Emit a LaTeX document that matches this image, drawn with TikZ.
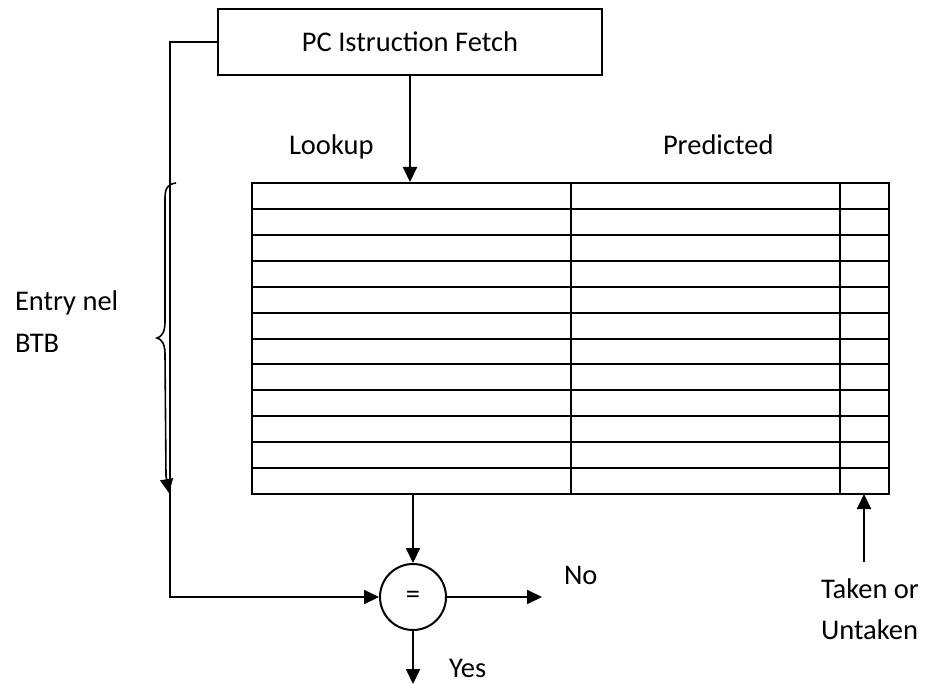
\documentclass[tikz,border=0pt]{standalone}
\usepackage{fontspec}
\setmainfont{Carlito}
\usetikzlibrary{arrows.meta}
\begin{document}
\begin{tikzpicture}[x=0.5pt,y=-0.5pt,line width=1pt,
  font=\fontsize{14.25pt}{17pt}\selectfont,
  tip/.style={-{Triangle[width=7pt,length=7.5pt]}},
  txt/.style={inner sep=0pt,anchor=base west},
  box/.style={draw,inner sep=0pt}]
\useasboundingbox (0,0) rectangle (926,684);

% fetch unit
\node[box,minimum width=192pt,minimum height=33pt] (pc) at (410,42) {PC Istruction Fetch};

% branch target buffer: 12 entries, three fields
\node[box,minimum width=318.5pt,minimum height=155.5pt] (btb) at (570.5,338.5) {};
\foreach \k in {1,...,11}
  \draw (252,183+\k*25.9167) -- (889,183+\k*25.9167);
\draw (571,183) -- (571,494);
\draw (840,183) -- (840,494);

% comparator
\node[box,circle,minimum size=33pt] (eq) at (413,597) {=};

% column headings
\node[txt] (lookup) at (288,155) {Lookup};
\node[txt] (pred) at (662,155) {Predicted};

% entry brace
\draw[line width=0.8pt,-{Triangle[width=6.5pt,length=7pt]}]
  (176,183) .. controls (168,184) and (165,188) .. (165,198)
  -- (165,322) .. controls (165,333) and (161,337) .. (157,338)
  .. controls (161,339) and (165,343) .. (165,354)
  -- (166,476) -- (169,493);
\node[txt] (entry1) at (14,310) {Entry nel};
\node[txt] (entry2) at (14,352) {BTB};

% connectors
\coordinate (loopx) at (170,42);
\coordinate (tabout) at (413,494);
\coordinate (noend) at (542,597);
\coordinate (yesend) at (413,684);
\coordinate (takenstart) at (864,562);
\coordinate (takenend) at (864,494);
\draw[tip] (pc.south) -- (pc.south |- btb.north);
\draw[tip] (pc.west) -- (loopx) |- (eq.west);
\draw[tip] (tabout) -- (eq.north);
\draw[tip] (eq.east) -- (noend);
\draw[tip] (eq.south) -- (yesend);
\draw[tip] (takenstart) -- (takenend);

% outcome labels
\node[txt] (no) at (563,584) {No};
\node[txt] (yes) at (448,677) {Yes};
\node[txt] (taken1) at (820,598) {Taken or};
\node[txt] (taken2) at (820,639) {Untaken};
\end{tikzpicture}
\end{document}
